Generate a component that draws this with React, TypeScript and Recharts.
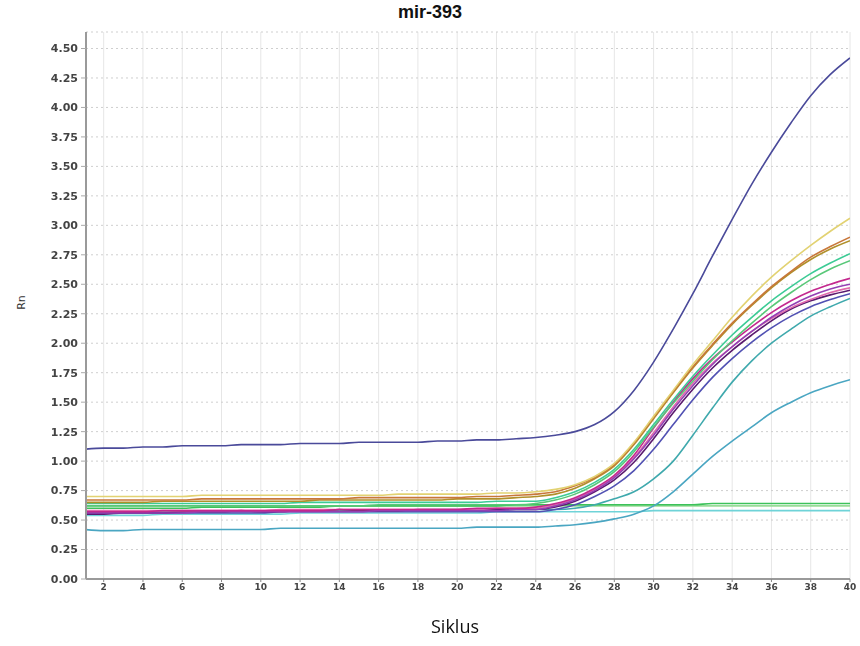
import React from 'react';
import { LineChart, Line, XAxis, YAxis, CartesianGrid } from 'recharts';

const cycles = Array.from({ length: 40 }, (_, i) => i + 1);
const xTicks = [2, 4, 6, 8, 10, 12, 14, 16, 18, 20, 22, 24, 26, 28, 30, 32, 34, 36, 38, 40];
const yTicks = [0, 0.25, 0.5, 0.75, 1, 1.25, 1.5, 1.75, 2, 2.25, 2.5, 2.75, 3, 3.25, 3.5, 3.75, 4, 4.25, 4.5];

const navy = [1.10,1.11,1.11,1.12,1.12,1.13,1.13,1.13,1.14,1.14,1.14,1.15,1.15,1.15,1.16,1.16,1.16,1.16,1.17,1.17,1.18,1.18,1.19,1.20,1.22,1.25,1.31,1.42,1.60,1.84,2.12,2.42,2.74,3.05,3.35,3.62,3.87,4.10,4.28,4.42];
const yellow = [0.70,0.70,0.70,0.70,0.70,0.70,0.71,0.71,0.71,0.71,0.71,0.71,0.71,0.71,0.71,0.71,0.72,0.72,0.72,0.72,0.72,0.73,0.73,0.74,0.76,0.80,0.87,0.98,1.16,1.38,1.60,1.82,2.02,2.22,2.40,2.56,2.70,2.83,2.95,3.06];
const orange = [0.67,0.67,0.67,0.67,0.67,0.67,0.68,0.68,0.68,0.68,0.68,0.68,0.68,0.68,0.69,0.69,0.69,0.69,0.69,0.69,0.70,0.70,0.71,0.72,0.74,0.79,0.86,0.97,1.15,1.37,1.59,1.80,1.99,2.17,2.33,2.48,2.61,2.73,2.82,2.90];
const gold = [0.65,0.65,0.65,0.65,0.66,0.66,0.66,0.66,0.66,0.66,0.66,0.66,0.67,0.67,0.67,0.67,0.67,0.67,0.67,0.68,0.68,0.68,0.69,0.70,0.72,0.77,0.85,0.96,1.14,1.36,1.58,1.79,1.98,2.16,2.32,2.47,2.60,2.71,2.80,2.87];
const green1 = [0.64,0.64,0.64,0.64,0.64,0.64,0.64,0.64,0.64,0.64,0.64,0.65,0.65,0.65,0.65,0.65,0.65,0.65,0.65,0.65,0.65,0.66,0.66,0.66,0.69,0.74,0.82,0.93,1.10,1.31,1.52,1.72,1.90,2.07,2.22,2.36,2.48,2.59,2.68,2.76];
const green2 = [0.62,0.62,0.62,0.62,0.62,0.62,0.62,0.62,0.62,0.62,0.62,0.62,0.62,0.62,0.62,0.63,0.63,0.63,0.63,0.63,0.63,0.63,0.63,0.64,0.67,0.72,0.80,0.91,1.08,1.29,1.49,1.68,1.86,2.02,2.17,2.31,2.43,2.54,2.63,2.70];
const magenta = [0.57,0.57,0.57,0.57,0.58,0.58,0.58,0.58,0.58,0.58,0.58,0.58,0.58,0.59,0.59,0.59,0.59,0.59,0.59,0.59,0.60,0.60,0.60,0.61,0.64,0.69,0.77,0.88,1.05,1.28,1.50,1.70,1.87,2.01,2.14,2.26,2.36,2.44,2.50,2.55];
const purple = [0.56,0.56,0.56,0.56,0.56,0.56,0.57,0.57,0.57,0.57,0.57,0.57,0.57,0.57,0.57,0.58,0.58,0.58,0.58,0.58,0.58,0.58,0.59,0.59,0.62,0.67,0.75,0.86,1.02,1.22,1.44,1.64,1.82,1.97,2.10,2.22,2.32,2.40,2.46,2.50];
const pink = [0.58,0.58,0.58,0.58,0.58,0.58,0.58,0.58,0.58,0.58,0.59,0.59,0.59,0.59,0.59,0.59,0.59,0.59,0.59,0.59,0.59,0.60,0.60,0.60,0.63,0.68,0.76,0.87,1.03,1.24,1.46,1.66,1.83,1.97,2.10,2.21,2.30,2.37,2.43,2.47];
const darkPurple = [0.55,0.55,0.56,0.56,0.56,0.57,0.57,0.57,0.58,0.57,0.57,0.58,0.58,0.59,0.58,0.58,0.58,0.59,0.59,0.59,0.59,0.59,0.59,0.59,0.61,0.66,0.74,0.84,0.99,1.19,1.41,1.61,1.79,1.94,2.07,2.19,2.29,2.36,2.41,2.45];
const violet = [0.56,0.56,0.56,0.56,0.56,0.56,0.56,0.56,0.56,0.56,0.57,0.57,0.57,0.57,0.57,0.57,0.57,0.57,0.57,0.57,0.57,0.57,0.57,0.57,0.59,0.63,0.70,0.79,0.92,1.10,1.31,1.52,1.71,1.87,2.01,2.13,2.23,2.31,2.37,2.42];
const teal = [0.57,0.57,0.57,0.57,0.57,0.57,0.57,0.57,0.57,0.57,0.58,0.58,0.58,0.58,0.58,0.58,0.58,0.58,0.58,0.58,0.58,0.58,0.59,0.59,0.59,0.60,0.63,0.68,0.74,0.85,1.00,1.22,1.45,1.67,1.85,2.00,2.12,2.23,2.31,2.38];
const lowTeal = [0.42,0.41,0.41,0.42,0.42,0.42,0.42,0.42,0.42,0.42,0.43,0.43,0.43,0.43,0.43,0.43,0.43,0.43,0.43,0.43,0.44,0.44,0.44,0.44,0.45,0.46,0.48,0.51,0.55,0.62,0.74,0.89,1.04,1.17,1.29,1.41,1.50,1.58,1.64,1.69];
const flatGreen = [0.60,0.60,0.60,0.60,0.60,0.60,0.61,0.61,0.61,0.61,0.61,0.61,0.61,0.62,0.62,0.62,0.62,0.62,0.62,0.62,0.62,0.62,0.63,0.63,0.63,0.63,0.63,0.63,0.63,0.63,0.63,0.63,0.64,0.64,0.64,0.64,0.64,0.64,0.64,0.64];
const flatLight = [0.62,0.62,0.62,0.62,0.62,0.62,0.62,0.62,0.62,0.62,0.62,0.62,0.62,0.62,0.62,0.62,0.62,0.62,0.62,0.62,0.62,0.62,0.62,0.62,0.62,0.62,0.62,0.62,0.62,0.62,0.62,0.62,0.62,0.62,0.62,0.62,0.62,0.62,0.62,0.62];
const flatCyan = [0.54,0.54,0.54,0.54,0.55,0.55,0.55,0.55,0.55,0.55,0.55,0.56,0.56,0.56,0.56,0.56,0.56,0.56,0.56,0.56,0.56,0.57,0.57,0.57,0.57,0.57,0.57,0.57,0.57,0.58,0.58,0.58,0.58,0.58,0.58,0.58,0.58,0.58,0.58,0.58];

const seriesList = [
  { key: 'flatCyan', values: flatCyan, color: '#6fd3d8' },
  { key: 'flatLight', values: flatLight, color: '#98dc98' },
  { key: 'flatGreen', values: flatGreen, color: '#3cc25a' },
  { key: 'lowTeal', values: lowTeal, color: '#4aa6c2' },
  { key: 'teal', values: teal, color: '#3fa9ad' },
  { key: 'violet', values: violet, color: '#5151b3' },
  { key: 'darkPurple', values: darkPurple, color: '#5a1a6e' },
  { key: 'pink', values: pink, color: '#e06aac' },
  { key: 'purple', values: purple, color: '#9440b4' },
  { key: 'magenta', values: magenta, color: '#c4288e' },
  { key: 'green2', values: green2, color: '#58c878' },
  { key: 'green1', values: green1, color: '#3ccb95' },
  { key: 'gold', values: gold, color: '#b0902a' },
  { key: 'orange', values: orange, color: '#c8773a' },
  { key: 'yellow', values: yellow, color: '#e2d272' },
  { key: 'navy', values: navy, color: '#4a4a9a' },
];

const data = cycles.map((c, i) => {
  const row: Record<string, number> = { cycle: c };
  seriesList.forEach((s) => { row[s.key] = s.values[i]; });
  return row;
});

export default function App() {
  return (
    <div style={{ position: 'fixed', left: 0, top: 0, width: 860, height: 646, background: '#fff' }}>
      <div style={{ position: 'absolute', left: 0, top: 2, width: 860, textAlign: 'center', fontFamily: '"Liberation Sans", Arial, sans-serif', fontWeight: 'bold', fontSize: 18, color: '#111' }}>
        mir-393
      </div>
      <div style={{ position: 'absolute', left: 14, top: 296, transform: 'rotate(-90deg)', fontFamily: '"DejaVu Sans", sans-serif', fontSize: 11, color: '#333' }}>
        Rn
      </div>
      <div style={{ position: 'absolute', left: 0, top: 614, width: 910, textAlign: 'center', fontFamily: '"Open Sans", "Noto Sans", sans-serif', fontSize: 18, color: '#111' }}>
        Siklus
      </div>
      <LineChart width={860} height={646} data={data} margin={{ top: 32, right: 10, bottom: 37, left: 0 }}>
        <CartesianGrid horizontal={false} stroke="#e6e6e6" strokeWidth={1} verticalPoints={undefined} />
        <CartesianGrid vertical={false} stroke="#cfcfcf" strokeDasharray="2 3" />
        <XAxis
          dataKey="cycle"
          type="number"
          domain={[1.1, 40]}
          allowDataOverflow
          ticks={xTicks}
          interval={0}
          height={30}
          tickSize={3}
          tickMargin={2}
          axisLine={{ stroke: '#9a9a9a', strokeWidth: 2 }}
          tickLine={{ stroke: '#888' }}
          tick={{ fontSize: 9, fontWeight: 'bold', fill: '#444', fontFamily: '"DejaVu Sans", sans-serif' }}
        />
        <XAxis xAxisId="top" orientation="top" type="number" domain={[1.1, 40]} height={0} tick={false} tickLine={false} axisLine={{ stroke: '#cccccc' }} />
        <YAxis
          type="number"
          domain={[0, 4.64]}
          allowDataOverflow
          ticks={yTicks}
          interval={0}
          width={86}
          tickSize={5}
          tickMargin={3}
          tickFormatter={(v: number) => v.toFixed(2)}
          axisLine={{ stroke: '#9a9a9a', strokeWidth: 2 }}
          tickLine={{ stroke: '#aaa' }}
          tick={{ fontSize: 11, fontWeight: 'bold', fill: '#444', fontFamily: '"DejaVu Sans", sans-serif' }}
        />
        <YAxis yAxisId="right" orientation="right" width={0} tick={false} tickLine={false} axisLine={{ stroke: '#cccccc' }} />
        {seriesList.map((s) => (
          <Line
            key={s.key}
            dataKey={s.key}
            type="monotone"
            stroke={s.color}
            strokeWidth={1.6}
            dot={false}
            isAnimationActive={false}
          />
        ))}
      </LineChart>
    </div>
  );
}
